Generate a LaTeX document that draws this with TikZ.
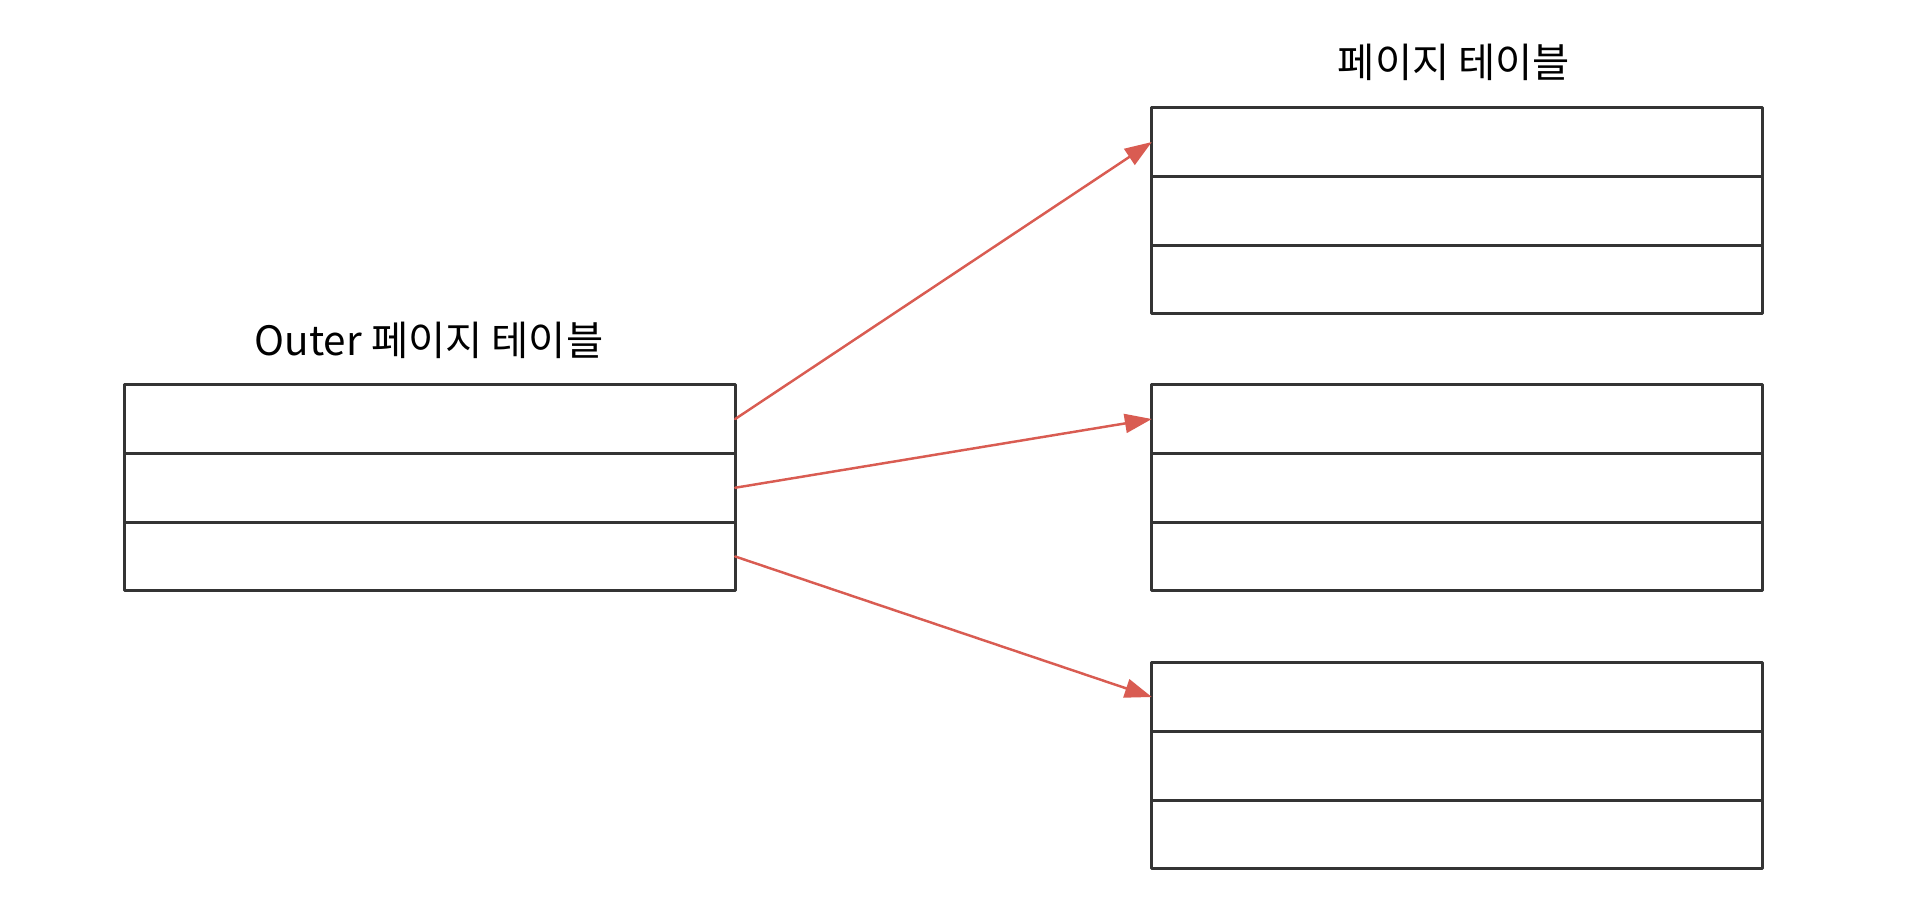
\documentclass[tikz,border=0pt]{standalone}
\usepackage{fontspec}
\newfontfamily\kor{Noto Sans CJK KR}
\usetikzlibrary{arrows.meta}
\usetikzlibrary{positioning}
\definecolor{tabline}{RGB}{52,52,52}
\definecolor{ptr}{RGB}{217,92,82}
\begin{document}
\begin{tikzpicture}[line cap=round,line join=round,x=0.01cm,y=-0.01cm,
  cell/.style={draw=tabline,line width=0.9pt,minimum width=6.1cm,minimum height=0.687cm,inner sep=0pt,outer sep=0pt},
  ptrarrow/.style={draw=ptr,line width=0.7pt,-{Triangle[length=0.27cm,width=0.19cm]}},
  lbl/.style={font=\kor\fontsize{11.5pt}{13pt}\selectfont,text=black}]
\useasboundingbox (0,0) rectangle (1912,900);
\node[lbl] (outerlbl) at (429,340) {Outer 페이지 테이블};
\node[lbl] (pagelbl) at (1454,62) {페이지 테이블};
\node[cell] (o1) at (430,419) {};
\node[cell,below=0pt of o1] (o2) {};
\node[cell,below=0pt of o2] (o3) {};
\node[cell] (a1) at (1457,142) {};
\node[cell,below=0pt of a1] (a2) {};
\node[cell,below=0pt of a2] (a3) {};
\node[cell] (b1) at (1457,419) {};
\node[cell,below=0pt of b1] (b2) {};
\node[cell,below=0pt of b2] (b3) {};
\node[cell] (c1) at (1457,697) {};
\node[cell,below=0pt of c1] (c2) {};
\node[cell,below=0pt of c2] (c3) {};
\draw[ptrarrow] (o1.east) -- (a1.west);
\draw[ptrarrow] (o2.east) -- (b1.west);
\draw[ptrarrow] (o3.east) -- (c1.west);
\end{tikzpicture}
\end{document}
